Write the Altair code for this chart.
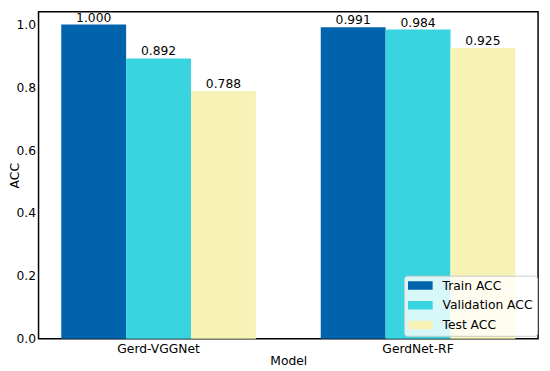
import altair as alt
import pandas as pd

models = ["Gerd-VGGNet", "GerdNet-RF"]
series = ["Train ACC", "Validation ACC", "Test ACC"]
train_acc = [1.000, 0.991]
val_acc = [0.892, 0.984]
test_acc = [0.788, 0.925]
colors = ["#0063AC", "#38D4E0", "#F7F3B6"]
y_ticks = [0.0, 0.2, 0.4, 0.6, 0.8, 1.0]

rows = []
for i, m in enumerate(models):
    for s, vals in zip(series, [train_acc, val_acc, test_acc]):
        rows.append({"Model": m, "Series": s, "ACC": vals[i]})
df = pd.DataFrame(rows)

FONT = "DejaVu Sans"
FS = 12.5

x = alt.X(
    "Model:N",
    sort=models,
    scale=alt.Scale(paddingInner=0.25, paddingOuter=0.0875),
    axis=alt.Axis(
        labelAngle=0, ticks=False, domain=False, labelPadding=4,
        title="Model", titlePadding=0,
    ),
)
xoff = alt.XOffset("Series:N", sort=series)
y = alt.Y(
    "ACC:Q",
    scale=alt.Scale(domain=[0, 1.0408], nice=False, zero=True),
    axis=alt.Axis(values=y_ticks, format=".1f", ticks=False, domain=False,
                  grid=False, labelPadding=3, title="ACC", titleX=-24,
                  titleBaseline="middle"),
)
color = alt.Color(
    "Series:N",
    sort=series,
    scale=alt.Scale(domain=series, range=colors),
    legend=alt.Legend(
        title=None, orient="none", legendX=371, legendY=268,
        fillColor="rgba(255,255,255,0.8)", strokeColor="#cccccc",
        cornerRadius=3, padding=4,
        symbolType="M-1,-0.35H1V0.35H-1Z", symbolSize=625,
        symbolStrokeWidth=0, symbolOpacity=1,
        clipHeight=12, rowPadding=7, labelOffset=10,
        labelFontSize=FS, labelFont=FONT, labelColor="black",
    ),
)

bars = alt.Chart(df).mark_bar(opacity=1).encode(x=x, xOffset=xoff, y=y, color=color)
labels = alt.Chart(df).mark_text(
    dy=-3, baseline="alphabetic", fontSize=FS, font=FONT, color="black"
).encode(x=x, xOffset=xoff, y=y, text=alt.Text("ACC:Q", format=".3f"))

chart = (
    alt.layer(bars, labels)
    .properties(
        width=507, height=332,
        padding={"left": 31, "top": 1, "right": 4, "bottom": 30},
        autosize=alt.AutoSizeParams(type="none"),
    )
    .configure_view(stroke="black", strokeWidth=1.5)
    .configure_axis(
        labelFont=FONT, titleFont=FONT, labelFontSize=FS, titleFontSize=FS,
        labelColor="black", titleColor="black", titleFontWeight="normal",
    )
)

chart.save("out.html", embed_options={"renderer": "svg", "actions": False})
